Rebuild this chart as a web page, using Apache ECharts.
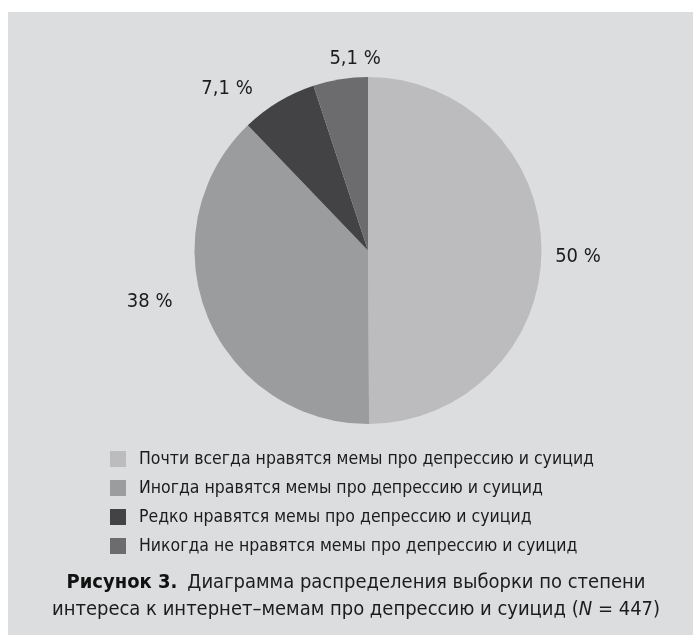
<!DOCTYPE html>
<html>
<head>
<meta charset="utf-8">
<script src="https://cdn.jsdelivr.net/npm/echarts@6/dist/echarts.min.js"></script>
<style>
  html, body { margin: 0; padding: 0; background: #ffffff; }
  body { width: 693px; height: 635px; position: relative; overflow: hidden; }
  #chart { position: absolute; left: 8px; top: 12px; width: 685px; height: 623px; }
</style>
</head>
<body>
<div id="chart"></div>
<script>
// Распределение выборки по степени интереса к мемам (N = 447)
const categories = [
  'Почти всегда нравятся мемы про депрессию и суицид',
  'Иногда нравятся мемы про депрессию и суицид',
  'Редко нравятся мемы про депрессию и суицид',
  'Никогда не нравятся мемы про депрессию и суицид'
];
const shares = [50, 38, 7.1, 5.1];
const sliceColors = ['#bcbcbe', '#9b9c9e', '#434345', '#6c6c6e'];
// small nudges of the percentage labels away from the mid-angle
const labelNudge = [[-3, 7], [-21, -29], [-31, 21], [21, 19]];

const FONT = '"DejaVu Sans Condensed", "Liberation Sans Narrow", "Noto Sans", sans-serif';
const TEXT = '#1c1c1c';

const fmt = v => String(v).replace('.', ',') + ' %';

const chart = echarts.init(document.getElementById('chart'));
chart.setOption({
  backgroundColor: '#dcdddf',
  animation: false,
  color: sliceColors,
  title: {
    left: 348,
    top: 557,
    padding: 0,
    textAlign: 'center',
    text: '{b|Рисунок 3.}{s| }{r|Диаграмма распределения выборки по степени}\n' +
          '{r|интереса к интернет–мемам про депрессию и суицид (}{i|N}{r| = 447)}',
    textStyle: {
      fontWeight: 'normal',
      rich: {
        b: { fontFamily: FONT, fontSize: 20, fontWeight: 'bold', color: '#111', lineHeight: 27 },
        s: { fontFamily: FONT, fontSize: 20, width: 10, lineHeight: 27 },
        r: { fontFamily: FONT, fontSize: 20, fontWeight: 'normal', color: TEXT, lineHeight: 27 },
        i: { fontFamily: FONT, fontSize: 20, fontWeight: 'normal', fontStyle: 'italic', color: TEXT, lineHeight: 27 }
      }
    }
  },
  legend: {
    orient: 'vertical',
    left: 102,
    top: 438,
    padding: 0,
    data: categories,
    icon: 'rect',
    itemWidth: 16,
    itemHeight: 16,
    itemGap: 11,
    selectedMode: false,
    textStyle: { fontFamily: FONT, fontSize: 17.5, color: TEXT, padding: [0, 0, 0, 8] }
  },
  series: [
    {
      type: 'pie',
      center: [360, 238.5],
      radius: [0, 173.5],
      startAngle: 90,
      clockwise: true,
      silent: true,
      label: { show: false },
      labelLine: { show: false },
      itemStyle: { borderWidth: 0 },
      data: categories.map((name, i) => ({ name, value: shares[i] }))
    },
    {
      // invisible ring that carries the percentage labels
      type: 'pie',
      center: [360, 238.5],
      radius: [200, 220],
      startAngle: 90,
      clockwise: true,
      silent: true,
      itemStyle: { color: 'rgba(0,0,0,0)', borderWidth: 0 },
      label: {
        show: true,
        position: 'inside',
        formatter: p => fmt(p.value),
        fontFamily: FONT,
        fontSize: 20,
        color: TEXT
      },
      labelLine: { show: false },
      labelLayout: p => ({ dx: labelNudge[p.dataIndex][0], dy: labelNudge[p.dataIndex][1] }),
      data: categories.map((name, i) => ({ name, value: shares[i] }))
    }
  ]
});
</script>
</body>
</html>
